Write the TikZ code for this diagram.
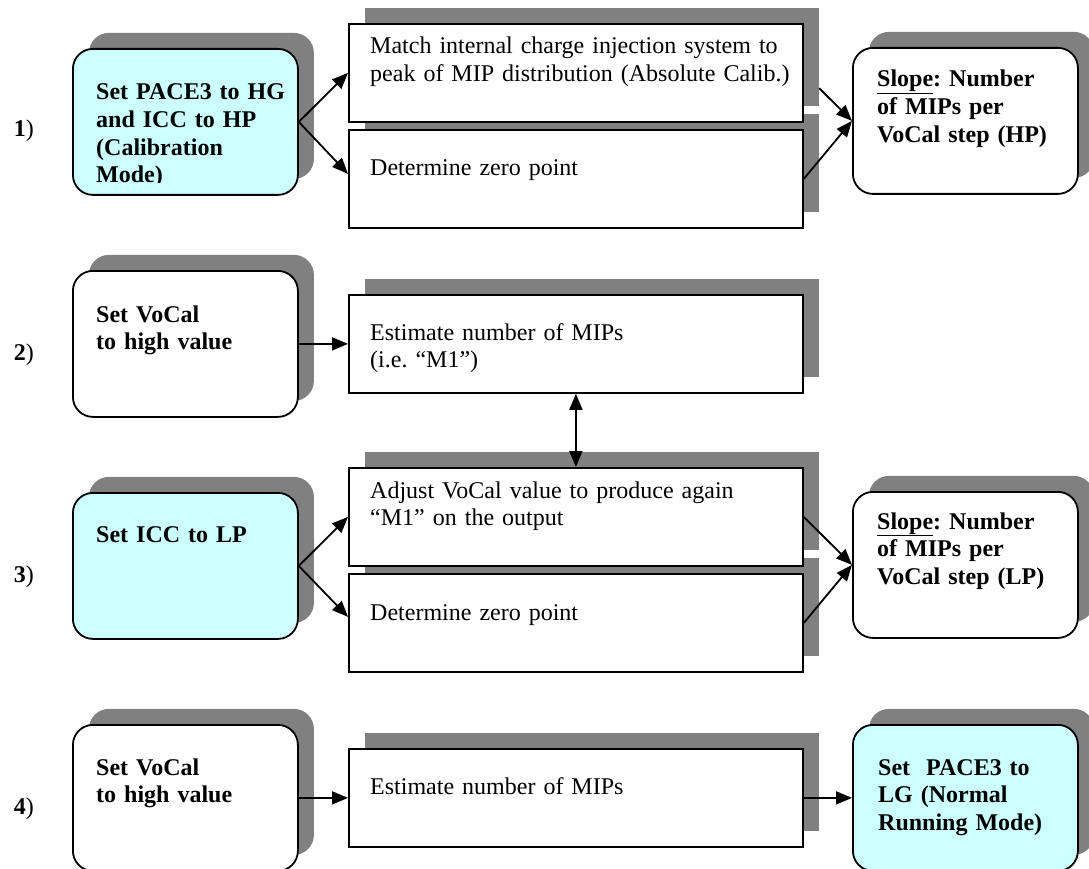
\documentclass[tikz,border=0pt]{standalone}
\usepackage{fontspec}
\setmainfont{Liberation Serif}
\usetikzlibrary{arrows.meta}
\usetikzlibrary{shadows,calc}

\definecolor{shadowgray}{RGB}{128,128,128}
\definecolor{calibcyan}{RGB}{204,255,255}

\begin{document}
\begin{tikzpicture}
    [x=1pt,y=-1pt,
font=\fontsize{24}{27.6}\selectfont,
box/.style={draw=black, line width=1.8pt, fill=white, anchor=north west, inner sep=0pt, general shadow={shadow xshift=16pt, shadow yshift=16pt, fill=shadowgray}},
roundbox/.style={box, rounded corners=20pt, minimum width=225pt, minimum height=146pt},cyanbox/.style={roundbox, fill=calibcyan},
midbox/.style={box, minimum width=454pt, minimum height=98pt},
txt/.style={anchor=base west, inner sep=0pt, align=left, text width=#1},txt/.default=420pt,
stepnum/.style={anchor=base east, inner sep=0pt},
arr/.style={line width=1.8pt, -{Triangle[length=16pt,width=13pt]}}
]

\useasboundingbox (0,0) rectangle (1089,869);

% row 1
\node[cyanbox](set1) at (72,48){};
\node[midbox](zero1) at (348,129){};
\node[midbox](match) at (348,23){};
\node[roundbox](slope1) at (852,47){};

\begin{scope}
\clip (set1.north west) rectangle ([yshift=13pt]set1.south east);
\node[txt=200pt](set1txt) at ($(set1.north west)+(24,52)$){\bfseries Set PACE3 to HG\\and ICC to HP\\(Calibration\\Mode)};
\end{scope}
\node[txt](matchtxt) at ($(match.north west)+(22,31)$){Match internal charge injection system to\\peak of MIP distribution (Absolute Calib.)};
\node[txt](zero1txt) at ($(zero1.north west)+(22,47)$){Determine zero point};
\node[txt=210pt](slope1txt) at ($(slope1.north west)+(25,40)$){\bfseries \underline{Slope}:\ Number\\of MIPs per\\VoCal step (HP)};

% row 2
\node[roundbox](vocal1) at (72,270){};
\node[midbox](est1) at (348,294){};

\node[txt=200pt](vocal1txt) at ($(vocal1.north west)+(24,52)$){\bfseries Set VoCal\\to high value};
\node[txt](est1txt) at ($(est1.north west)+(22,46)$){Estimate number of MIPs\\(i.e.\ “M1”)};

% row 3
\node[cyanbox](icc) at (72,492){};
\node[midbox](zero2) at (348,573){};
\node[midbox](adjust) at (348,467){};
\node[roundbox](slope2) at (852,491){};

\node[txt=200pt](icctxt) at ($(icc.north west)+(24,50)$){\bfseries Set ICC to LP};
\node[txt](adjusttxt) at ($(adjust.north west)+(22,31)$){Adjust VoCal value to produce again\\“M1” on the output};
\node[txt](zero2txt) at ($(zero2.north west)+(22,47)$){Determine zero point};
\node[txt=210pt](slope2txt) at ($(slope2.north west)+(25,38)$){\bfseries \underline{Slope}:\ Number\\of MIPs per\\VoCal step (LP)};

% row 4
\node[roundbox](vocal2) at (72,724){};
\node[midbox](est2) at (348,748){};
\node[cyanbox](lg) at (852,724){};

\node[txt=200pt](vocal2txt) at ($(vocal2.north west)+(24,51)$){\bfseries Set VoCal\\to high value};
\node[txt](est2txt) at ($(est2.north west)+(22,46)$){Estimate number of MIPs};
\node[txt=210pt](lgtxt) at ($(lg.north west)+(26,51)$){\bfseries Set~~PACE3 to\\LG (Normal\\Running Mode)};

\node[stepnum](num1) at (34,137){\textbf{1})};
\node[stepnum](num2) at (34,360){\textbf{2})};
\node[stepnum](num3) at (34,582){\textbf{3})};
\node[stepnum](num4) at (34,814){\textbf{4})};

\draw[arr] (set1.east) -- (match.west);
\draw[arr] (set1.east) -- ([yshift=5pt]zero1.west);
\draw[arr] ($(match.east)!0.32!(slope1.west)$) -- (slope1.west);
\draw[arr] (zero1.east) -- (slope1.west);

\draw[arr] (vocal1.east) -- (est1.west);
\draw[arr,{Triangle[length=16pt,width=13pt]}-{Triangle[length=16pt,width=13pt]}] (est1.south) -- (adjust.north);

\draw[arr] (icc.east) -- (adjust.west);
\draw[arr] (icc.east) -- ([yshift=6pt]zero2.west);
\draw[arr] (adjust.east) -- (slope2.west);
\draw[arr] (zero2.east) -- (slope2.west);

\draw[arr] (vocal2.east) -- (est2.west);
\draw[arr] (est2.east) -- (lg.west);

\end{tikzpicture}
\end{document}
